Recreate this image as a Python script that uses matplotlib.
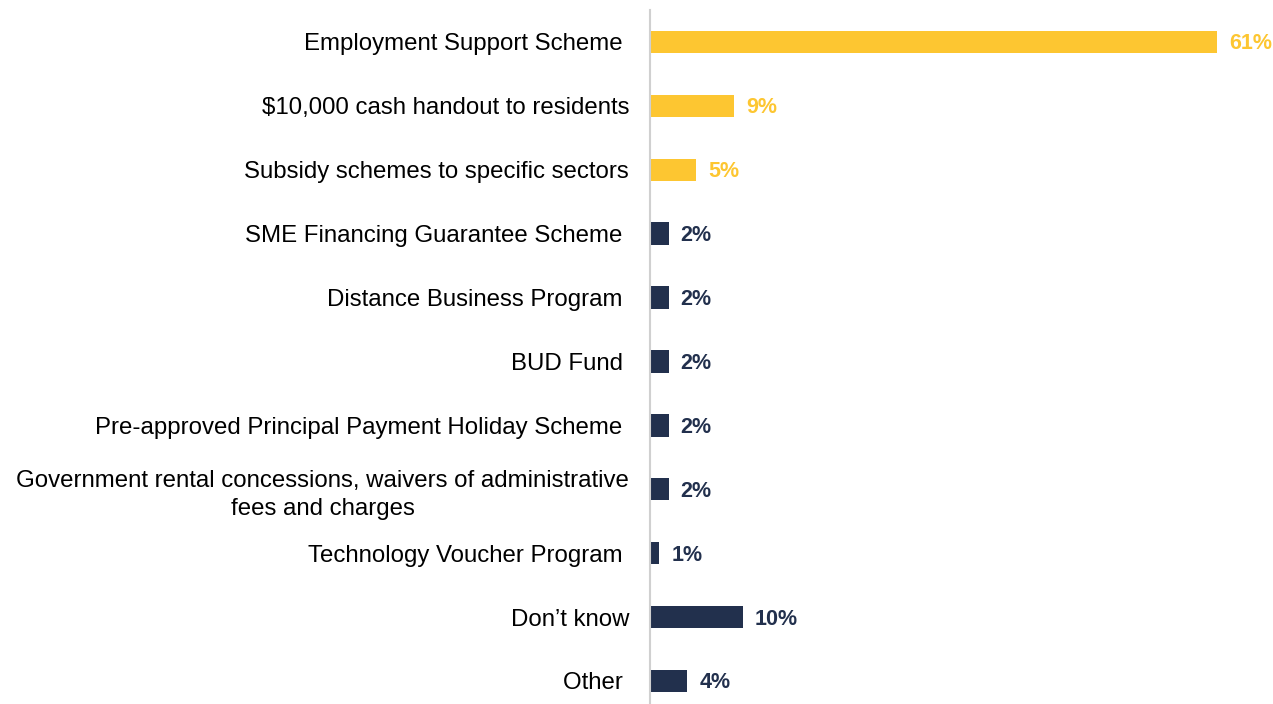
import matplotlib.pyplot as plt

plt.rcParams['font.family'] = ['Liberation Sans', 'DejaVu Sans']

# Data
categories = [
    "Employment Support Scheme ",
    "$10,000 cash handout to residents",
    "Subsidy schemes to specific sectors",
    "SME Financing Guarantee Scheme ",
    "Distance Business Program ",
    "BUD Fund ",
    "Pre-approved Principal Payment Holiday Scheme ",
    "Government rental concessions, waivers of administrative\nfees and charges",
    "Technology Voucher Program ",
    "Don\u2019t know",
    "Other ",
]
values = [61, 9, 5, 2, 2, 2, 2, 2, 1, 10, 4]
highlight = [True, True, True, False, False, False, False, False, False, False, False]

yellow = "#FDC631"
navy = "#22304D"
colors = [yellow if h else navy for h in highlight]

fig = plt.figure(figsize=(12.73, 7.04), dpi=100)
ax = fig.add_axes([650 / 1273, 0, 623 / 1273, 694 / 704])

pos = list(range(len(categories)))
ax.barh(pos, values, height=0.35, color=colors)

for p, v, c in zip(pos, values, colors):
    ax.text(v + 1.3, p + 0.03, f"{v}%", va="center", ha="left", color=c,
            fontsize=15.5, fontweight="bold")

ax.set_xlim(0, 67)
ax.set_ylim(10.36, -0.5)
ax.set_yticks(pos)
ax.set_yticklabels(categories, fontsize=17.3, multialignment="center",
                   linespacing=1.35)
ax.tick_params(axis="y", length=0, pad=15)
ax.set_xticks([])

for s in ["top", "right", "bottom"]:
    ax.spines[s].set_visible(False)
ax.spines["left"].set_color("#D0D0D0")
ax.spines["left"].set_linewidth(1.5)

plt.savefig("out.png", dpi=100)
